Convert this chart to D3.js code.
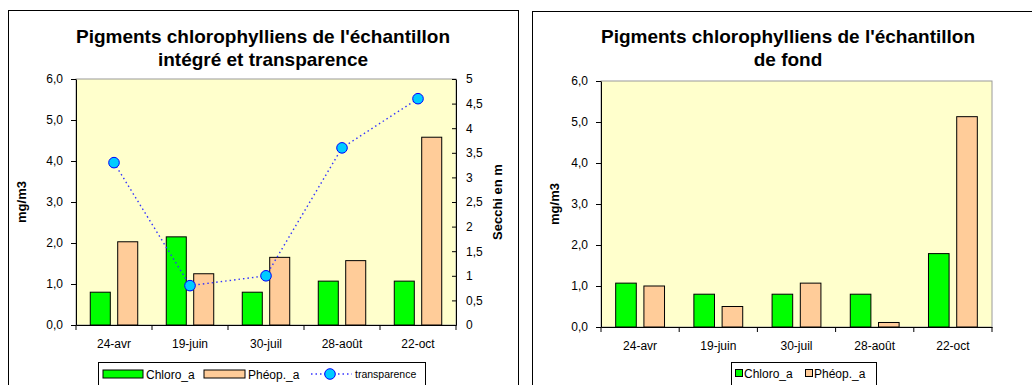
<!DOCTYPE html>
<html><head><meta charset="utf-8">
<script src="https://cdn.jsdelivr.net/npm/d3@7"></script>
<style>
html,body{margin:0;padding:0;background:#fff;}
svg{display:block;font-family:Arial,"Liberation Sans",sans-serif;}
</style></head>
<body>
<svg id="c" width="1032" height="385"></svg>
<script>
const categories = ["24-avr","19-juin","30-juil","28-août","22-oct"];
const integreChloro = [0.80, 2.15, 0.80, 1.07, 1.07];
const integrePheo = [2.03, 1.25, 1.65, 1.57, 4.58];
const transparence = [3.30, 0.80, 1.00, 3.60, 4.60];
const fondChloro = [1.07, 0.80, 0.80, 0.80, 1.79];
const fondPheo = [1.00, 0.50, 1.07, 0.11, 5.13];
const mgTicks = [0,1,2,3,4,5,6];
const secchiTicks = [0,0.5,1,1.5,2,2.5,3,3.5,4,4.5,5];
const seriesNames = ["Chloro_a","Phéop._a"];
const titleLeft = ["Pigments chlorophylliens de l'échantillon","intégré et transparence"];
const titleRight = ["Pigments chlorophylliens de l'échantillon","de fond"];

const GREEN = "#00ff00", PEACH = "#ffcc99", PLOTBG = "#ffffcc";
const svg = d3.select("#c");
const fmt1 = d => d3.format(".1f")(d).replace(".", ",");
const fmtS = d => String(d).replace(".", ",");

function chart(o) {
  const g = svg.append("g");
  g.append("rect").attr("x", o.box[0]+0.5).attr("y", o.box[1]+0.5)
    .attr("width", o.box[2]-o.box[0]).attr("height", o.box[3]-o.box[1])
    .attr("fill", "#fff").attr("stroke", "#000").attr("stroke-width", 1);
  o.title.forEach((t, i) => g.append("text").attr("x", o.titleX).attr("y", 43 + i*23)
    .attr("text-anchor", "middle").attr("font-size", 19).attr("font-weight", "bold").text(t));
  const [L, T, R, B] = o.plot;
  const x = d3.scaleBand().domain(categories).range([L, R]);
  const x1 = d3.scaleBand().domain(seriesNames).range([0, x.bandwidth()]).paddingInner(0.27).paddingOuter(0.52);
  const y = d3.scaleLinear().domain([0, 6]).range([B, T]);
  g.append("rect").attr("x", L).attr("y", T).attr("width", R-L).attr("height", B-T)
    .attr("fill", PLOTBG).attr("stroke", "#9a9a9a").attr("stroke-width", 1);
  const data = categories.map((c, i) => ({c, vals: [o.chloro[i], o.pheo[i]]}));
  const grp = g.selectAll(".grp").data(data).join("g").attr("transform", d => `translate(${x(d.c)},0)`);
  grp.selectAll("rect").data(d => d.vals.map((v, j) => ({v, s: seriesNames[j]}))).join("rect")
    .attr("x", d => x1(d.s)).attr("y", d => y(d.v)).attr("width", x1.bandwidth())
    .attr("height", d => B - y(d.v)).attr("fill", d => d.s === "Chloro_a" ? GREEN : PEACH)
    .attr("stroke", "#000").attr("stroke-width", 1);
  const ya = g.append("g").attr("transform", `translate(${L},0)`)
    .call(d3.axisLeft(y).tickValues(mgTicks).tickFormat(fmt1).tickSize(5).tickPadding(8).tickSizeOuter(0));
  ya.selectAll("text").attr("font-size", 12).attr("fill", "#000").attr("font-family", "Arial, Liberation Sans, sans-serif");
  ya.select(".domain").attr("stroke", "#000");
  ya.selectAll(".tick line").attr("stroke", "#000");
  const xa = g.append("g").attr("transform", `translate(0,${B})`)
    .call(d3.axisBottom(x).tickSize(0).tickPadding(14).tickSizeOuter(0));
  xa.selectAll("text").attr("font-size", 12).attr("fill", "#000").attr("font-family", "Arial, Liberation Sans, sans-serif");
  xa.select(".domain").attr("stroke", "#000");
  const bounds = categories.map(c => x(c)).concat([x.range()[1]]);
  g.selectAll(".bt").data(bounds).join("line").attr("x1", d => d).attr("x2", d => d)
    .attr("y1", B).attr("y2", B + 5).attr("stroke", "#000");
  g.append("text").attr("transform", `translate(${o.yTitleX},${(T+B)/2}) rotate(-90)`)
    .attr("text-anchor", "middle").attr("font-size", 13).attr("font-weight", "bold").text("mg/m3");
  return {g, x, y, L, T, R, B};
}

// ---- left chart
const c1 = chart({box:[8,10,518,400], plot:[76,79,456,325], titleX:263, title:titleLeft,
  chloro:integreChloro, pheo:integrePheo, yTitleX:26});
const y2 = d3.scaleLinear().domain([0, 5]).range([c1.B, c1.T]);
const ra = c1.g.append("g").attr("transform", `translate(${c1.R},0)`)
  .call(d3.axisRight(y2).tickValues(secchiTicks).tickFormat(fmtS).tickSize(-4).tickPadding(10).tickSizeOuter(0));
ra.selectAll("text").attr("font-size", 12).attr("fill", "#000").attr("font-family", "Arial, Liberation Sans, sans-serif");
ra.select(".domain").attr("stroke", "#000");
ra.selectAll(".tick line").attr("stroke", "#000");
c1.g.append("text").attr("transform", `translate(502,${(c1.T+c1.B)/2}) rotate(-90)`)
  .attr("text-anchor", "middle").attr("font-size", 13).attr("font-weight", "bold").text("Secchi en m");
const cx = d => c1.x(d) + c1.x.bandwidth()/2;
const tdata = categories.map((c, i) => ({c, v: transparence[i]}));
c1.g.append("path").datum(tdata)
  .attr("d", d3.line().x(d => cx(d.c)).y(d => y2(d.v)))
  .attr("fill", "none").attr("stroke", "#3333ff").attr("stroke-width", 1.4).attr("stroke-dasharray", "1.5,3");
c1.g.selectAll(".mk").data(tdata).join("circle").attr("cx", d => cx(d.c)).attr("cy", d => y2(d.v))
  .attr("r", 5.3).attr("fill", "#00ccff").attr("stroke", "#0000ff").attr("stroke-width", 1);
const lg = c1.g.append("g");
lg.append("rect").attr("x", 98.5).attr("y", 362.5).attr("width", 327).attr("height", 40)
  .attr("fill", "#fff").attr("stroke", "#000");
lg.append("rect").attr("x", 103).attr("y", 370).attr("width", 40).attr("height", 8).attr("fill", GREEN).attr("stroke", "#000");
lg.append("text").attr("x", 146).attr("y", 379).attr("font-size", 12).text(seriesNames[0]);
lg.append("rect").attr("x", 204).attr("y", 370).attr("width", 41).attr("height", 8).attr("fill", PEACH).attr("stroke", "#000");
lg.append("text").attr("x", 248).attr("y", 379).attr("font-size", 12).text(seriesNames[1]);
lg.append("line").attr("x1", 311).attr("x2", 352).attr("y1", 374).attr("y2", 374)
  .attr("stroke", "#3333ff").attr("stroke-width", 1.4).attr("stroke-dasharray", "1.5,3");
lg.append("circle").attr("cx", 330).attr("cy", 374).attr("r", 5.3).attr("fill", "#00ccff").attr("stroke", "#0000ff");
lg.append("text").attr("x", 355).attr("y", 378).attr("font-size", 10.5).text("transparence");

// ---- right chart
const c2 = chart({box:[532,11,1045,400], plot:[601,81,992,327], titleX:788, title:titleRight,
  chloro:fondChloro, pheo:fondPheo, yTitleX:559});
const lg2 = c2.g.append("g");
lg2.append("rect").attr("x", 731.5).attr("y", 362.5).attr("width", 145).attr("height", 40)
  .attr("fill", "#fff").attr("stroke", "#000");
lg2.append("rect").attr("x", 735.5).attr("y", 369.5).attr("width", 7).attr("height", 7).attr("fill", GREEN).attr("stroke", "#000");
lg2.append("text").attr("x", 744).attr("y", 378).attr("font-size", 12).text(seriesNames[0]);
lg2.append("rect").attr("x", 805.5).attr("y", 369.5).attr("width", 7).attr("height", 7).attr("fill", PEACH).attr("stroke", "#000");
lg2.append("text").attr("x", 814).attr("y", 378).attr("font-size", 12).text(seriesNames[1]);
</script>
</body></html>
